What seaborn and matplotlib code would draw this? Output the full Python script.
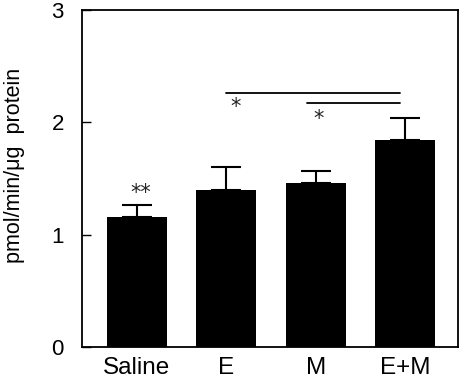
import matplotlib
matplotlib.use("Agg")
import matplotlib.pyplot as plt
import seaborn as sns
import numpy as np
import pandas as pd

groups = ["Saline", "E", "M", "E+M"]
means = [1.16, 1.40, 1.46, 1.84]
sem = [0.10, 0.20, 0.11, 0.20]
yticks = [0, 1, 2, 3]

sns.set_theme(style="white")
plt.rcParams["font.family"] = ["Liberation Sans", "DejaVu Sans"]

df = pd.DataFrame({"group": groups, "value": means})

fig = plt.figure(figsize=(4.62, 3.80), dpi=100)
ax = fig.add_axes([0.1775, 0.0868, 0.8138, 0.8869])

sns.barplot(data=df, x="group", y="value", order=groups, color="black",
            width=0.67, errorbar=None, ax=ax, saturation=1)
for p in ax.patches:
    p.set_edgecolor("black")
    p.set_linewidth(0)

xpos = np.arange(len(groups))
ax.errorbar(xpos, means, yerr=[np.zeros(len(sem)), sem], fmt="none",
            ecolor="black", elinewidth=1.5, capsize=10.8, capthick=1.5)

# significance lines and stars
ax.plot([0.994, 2.94], [2.264, 2.264], color="black", lw=1.3)
ax.plot([1.90, 2.94], [2.175, 2.175], color="black", lw=1.3)
star_kw = dict(ha="center", va="center", fontsize=15, color="#222222",
               family="DejaVu Sans")
ax.text(1.106, 2.14, "*", **star_kw)
ax.text(2.03, 2.03, "*", **star_kw)
ax.text(0.045, 1.37, "**", **star_kw)

ax.set_xlim(-0.615, 3.59)
ax.set_ylim(0, 3)
ax.set_yticks(yticks)
ax.set_yticklabels([str(t) for t in yticks], fontsize=16)
ax.tick_params(axis="y", direction="in", length=6.5, width=1, pad=13,
               left=True, right=False, colors="black")
ax.tick_params(axis="x", length=0, pad=7, labelsize=17.5, colors="black")
ax.set_xlabel("")
ax.set_ylabel("pmol/min/\u03bcg  protein", fontsize=15.5, color="black")
ax.yaxis.set_label_coords(-0.152, 0.539)
for s in ax.spines.values():
    s.set_visible(True)
    s.set_color("black")
    s.set_linewidth(1.3)

fig.savefig("out.png", dpi=100)
